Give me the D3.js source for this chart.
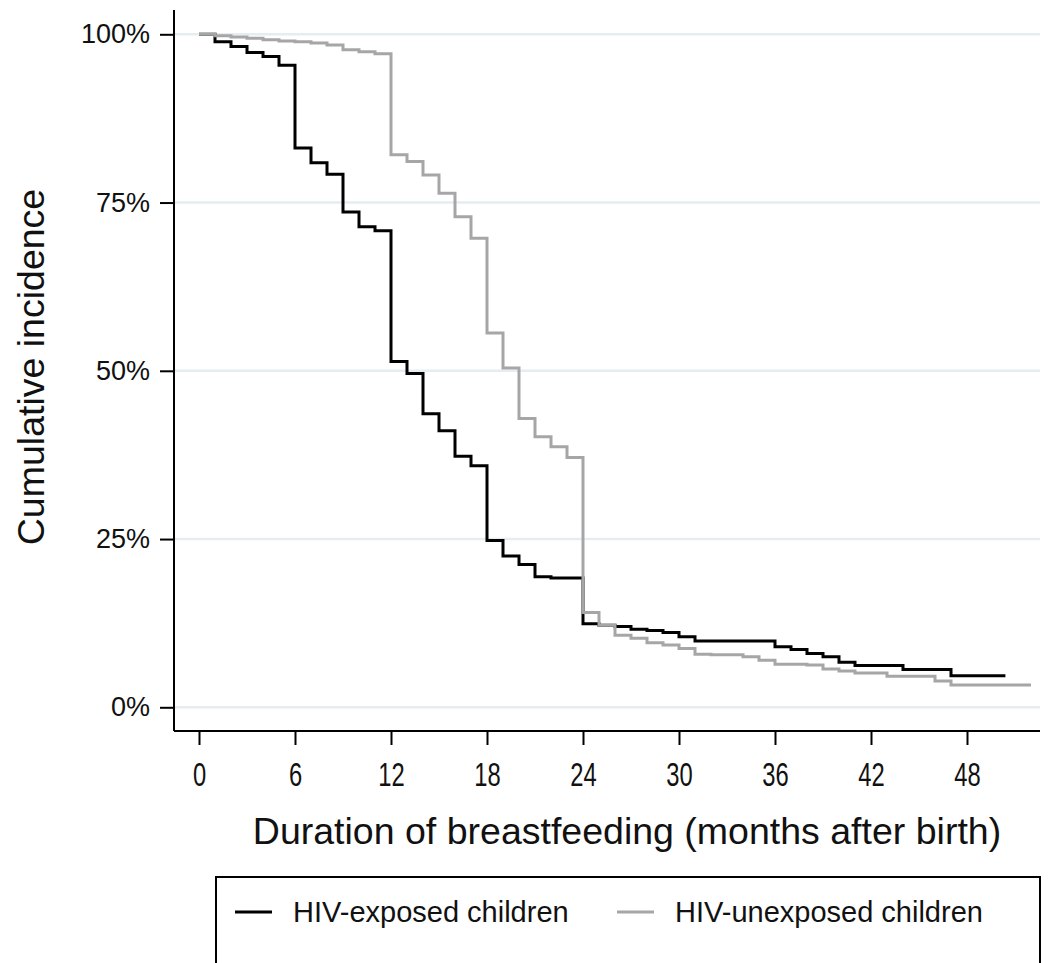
<!DOCTYPE html>
<html>
<head>
<meta charset="utf-8">
<script src="https://cdn.jsdelivr.net/npm/d3@7"></script>
<style>
  body { margin: 0; background: #fff; }
  svg { display: block; font-family: "Liberation Sans", Arial, sans-serif; }
</style>
</head>
<body>
<script>
// step curves (months, % still breastfed)
var exposedMonths = [0,1,2,3,4,5,6,7,8,9,10,11,12,13,14,15,16,17,18,19,20,21,22,24,25,26,27,28,29,30,31,36,37,38,39,40,41,44,47,50.4];
var exposedPct    = [100,98.9,98.2,97.3,96.7,95.4,83.1,80.9,79.2,73.6,71.4,70.8,51.4,49.6,43.6,41.1,37.3,35.9,24.8,22.5,21.2,19.4,19.2,12.4,12.2,12.0,11.6,11.4,11.1,10.5,9.85,9.0,8.6,8.0,7.5,6.7,6.2,5.6,4.7,4.7];

var unexposedMonths = [0,1,2,3,4,5,6,7,8,9,10,11,12,13,14,15,16,17,18,19,20,21,22,23,24,25,26,27,28,29,30,31,32,34,35,36,38,39,40,41,43,46,47,52];
var unexposedPct    = [100,99.8,99.6,99.4,99.2,99.0,98.9,98.7,98.4,97.7,97.4,97.1,82.1,81.1,79.1,76.4,72.9,69.7,55.6,50.4,42.9,40.2,38.7,37.1,14.1,12.2,10.7,10.25,9.6,9.25,8.75,7.9,7.8,7.5,7.0,6.4,6.3,5.7,5.4,5.1,4.6,3.9,3.3,3.3];

var xTicks = [0,6,12,18,24,30,36,42,48];
var yTicks = [0,25,50,75,100];
var seriesNames = ["HIV-exposed children", "HIV-unexposed children"];
var seriesColors = ["#000000", "#a6a6a6"];

var w = 1051, h = 963;
var plotLeft = 174, plotRight = 1040, plotTop = 10, plotBottom = 731;

var svg = d3.select("body").append("svg")
    .attr("width", w)
    .attr("height", h);

svg.append("rect").attr("width", w).attr("height", h).attr("fill", "#fff");

// 16 px per month, 0 sits at x=199
var x = d3.scaleLinear()
    .domain([-(199 - plotLeft) / 16, (plotRight - 199) / 16])
    .range([plotLeft, plotRight]);
// 0% at 707.3, 100% at 34.3
var ppp = (707.3 - 34.3) / 100;
var y = d3.scaleLinear()
    .domain([-(plotBottom - 707.3) / ppp, 100 + (34.3 - plotTop) / ppp])
    .range([plotBottom, plotTop]);

// grid
svg.append("g").selectAll("line")
   .data(yTicks)
   .enter()
   .append("line")
   .attr("x1", plotLeft).attr("x2", plotRight)
   .attr("y1", function(d) { return y(d); })
   .attr("y2", function(d) { return y(d); })
   .attr("stroke", "#e6edf1")
   .attr("stroke-width", 2.5);

// curves
var line = d3.line()
    .x(function(d) { return x(d[0]); })
    .y(function(d) { return y(d[1]); })
    .curve(d3.curveStepAfter);

var series = [d3.zip(exposedMonths, exposedPct), d3.zip(unexposedMonths, unexposedPct)];
series.forEach(function(s, i) {
  svg.append("path")
     .datum(s)
     .attr("d", line)
     .attr("fill", "none")
     .attr("stroke", seriesColors[i])
     .attr("stroke-width", 3)
     .attr("stroke-linejoin", "miter");
});

// axes
var yAxis = svg.append("g")
    .attr("transform", "translate(" + plotLeft + ",0)")
    .call(d3.axisLeft(y).tickValues(yTicks).tickSize(14).tickPadding(10)
          .tickFormat(function(d) { return d + "%"; }));
yAxis.select(".domain").attr("d", "M0," + plotTop + "V" + plotBottom).attr("stroke-width", 2);
yAxis.selectAll(".tick line").attr("stroke-width", 2);
yAxis.selectAll("text")
     .attr("font-size", 27)
     .attr("font-family", "Liberation Sans, Arial, sans-serif")
     .attr("fill", "#111");

var xAxis = svg.append("g")
    .attr("transform", "translate(0," + plotBottom + ")")
    .call(d3.axisBottom(x).tickValues(xTicks).tickSize(14));
xAxis.select(".domain").attr("d", "M" + plotLeft + ",0H" + plotRight).attr("stroke-width", 2);
xAxis.selectAll(".tick line").attr("stroke-width", 2);
xAxis.selectAll("text")
     .attr("y", 55)
     .attr("dy", 0)
     .attr("font-size", 33)
     .attr("font-family", "Liberation Sans, Arial, sans-serif")
     .attr("transform", "scale(0.72,1)")
     .attr("fill", "#111");

// titles
svg.append("text")
   .attr("x", 627)
   .attr("y", 844)
   .attr("text-anchor", "middle")
   .attr("font-size", 37.5)
   .attr("fill", "#111")
   .text("Duration of breastfeeding (months after birth)");

svg.append("text")
   .attr("transform", "translate(44,367) rotate(-90)")
   .attr("text-anchor", "middle")
   .attr("font-size", 37.5)
   .attr("fill", "#111")
   .text("Cumulative incidence");

// legend
var lg = svg.append("g");
lg.append("rect")
  .attr("x", 216).attr("y", 877)
  .attr("width", 824).attr("height", 110)
  .attr("fill", "#fff")
  .attr("stroke", "#000")
  .attr("stroke-width", 2);

var legX = [235, 617];
seriesNames.forEach(function(name, i) {
  lg.append("line")
    .attr("x1", legX[i]).attr("x2", legX[i] + 37)
    .attr("y1", 912).attr("y2", 912)
    .attr("stroke", seriesColors[i])
    .attr("stroke-width", 3);
  lg.append("text")
    .attr("x", legX[i] + 58)
    .attr("y", 922)
    .attr("font-size", 29)
    .attr("fill", "#111")
    .text(name);
});
</script>
</body>
</html>
